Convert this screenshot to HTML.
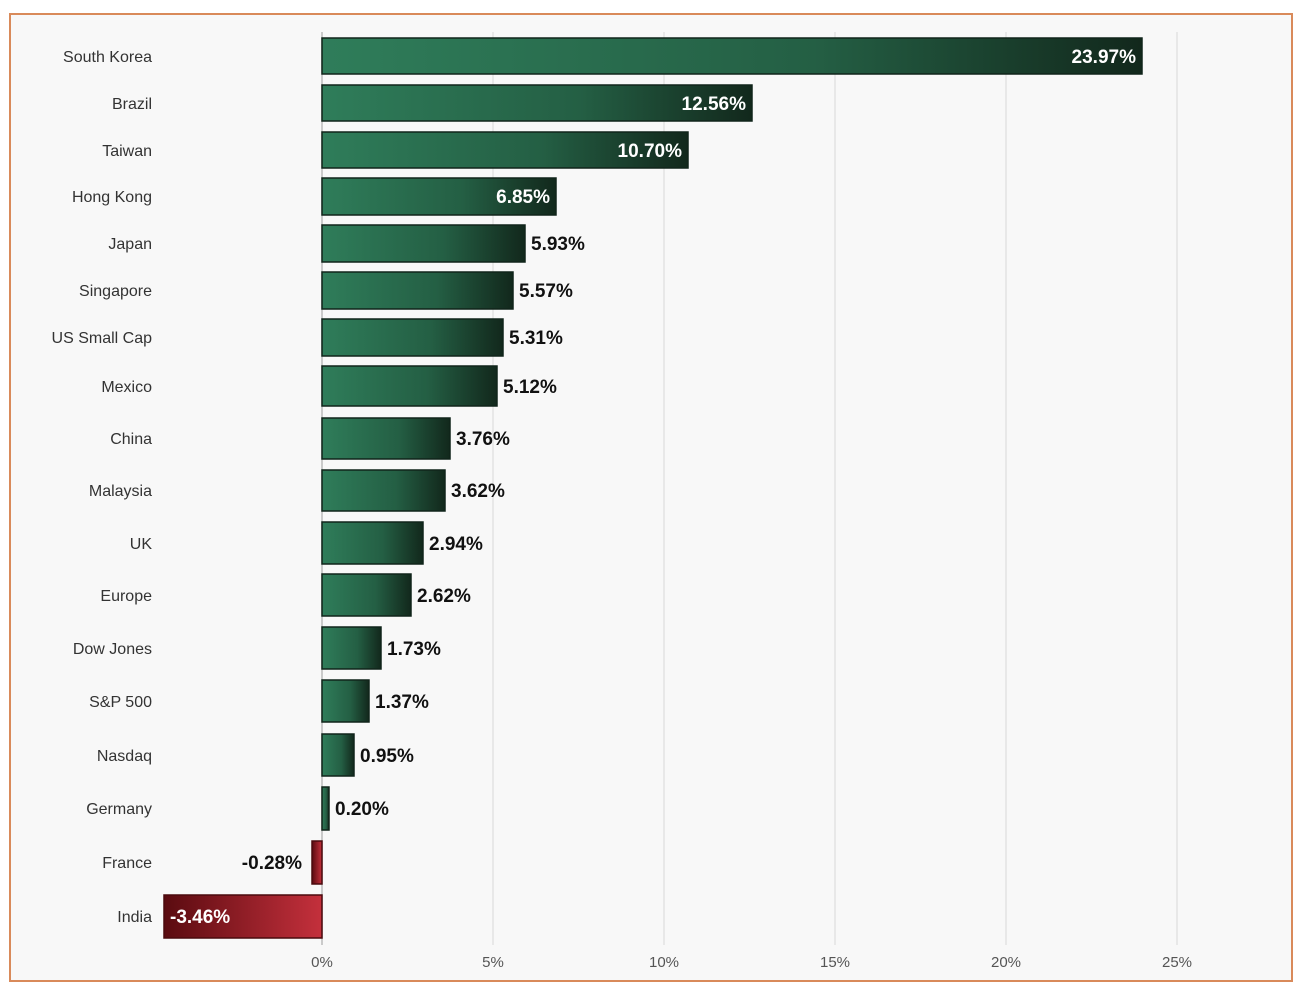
<!DOCTYPE html>
<html><head><meta charset="utf-8"><style>
html,body{margin:0;padding:0;background:#fff;}
svg{display:block;}
</style></head><body>
<svg width="1312" height="994" viewBox="0 0 1312 994" xmlns="http://www.w3.org/2000/svg">
<defs>
<linearGradient id="g" x1="0" y1="0" x2="1" y2="0">
<stop offset="0" stop-color="#2f7d5a"/><stop offset="0.6" stop-color="#245f44"/><stop offset="1" stop-color="#12281c"/>
</linearGradient>
<linearGradient id="r" x1="0" y1="0" x2="1" y2="0">
<stop offset="0" stop-color="#5a0b10"/><stop offset="1" stop-color="#c4303c"/>
</linearGradient>
</defs>
<rect x="10" y="14" width="1282" height="967" fill="#f8f8f8" stroke="#d98a5a" stroke-width="2"/>
<g stroke="#e2e2e2" stroke-width="1.5">
<line x1="493" y1="32" x2="493" y2="945"/><line x1="664" y1="32" x2="664" y2="945"/>
<line x1="835" y1="32" x2="835" y2="945"/><line x1="1006" y1="32" x2="1006" y2="945"/>
<line x1="1177" y1="32" x2="1177" y2="945"/>
</g>
<line x1="322" y1="32" x2="322" y2="945" stroke="#bbb" stroke-width="1.5"/>
<g font-family="'Liberation Sans Narrow','Liberation Sans',sans-serif" font-size="16" fill="#333" text-anchor="end">
<text x="152" y="62">South Korea</text><text x="152" y="109">Brazil</text><text x="152" y="156">Taiwan</text>
<text x="152" y="202">Hong Kong</text><text x="152" y="249">Japan</text><text x="152" y="296">Singapore</text>
<text x="152" y="343">US Small Cap</text><text x="152" y="392">Mexico</text><text x="152" y="444">China</text>
<text x="152" y="496">Malaysia</text><text x="152" y="549">UK</text><text x="152" y="601">Europe</text>
<text x="152" y="654">Dow Jones</text><text x="152" y="707">S&amp;P 500</text><text x="152" y="761">Nasdaq</text>
<text x="152" y="814">Germany</text><text x="152" y="868">France</text><text x="152" y="922">India</text>
</g>
<g stroke="#10241a" stroke-width="1.5" fill="url(#g)">
<rect x="322" y="38" width="820" height="36"/>
<rect x="322" y="85" width="430" height="36"/>
<rect x="322" y="132" width="366" height="36"/>
<rect x="322" y="178" width="234" height="37"/>
<rect x="322" y="225" width="203" height="37"/>
<rect x="322" y="272" width="191" height="37"/>
<rect x="322" y="319" width="181" height="37"/>
<rect x="322" y="366" width="175" height="40"/>
<rect x="322" y="418" width="128" height="41"/>
<rect x="322" y="470" width="123" height="41"/>
<rect x="322" y="522" width="101" height="42"/>
<rect x="322" y="574" width="89" height="42"/>
<rect x="322" y="627" width="59" height="42"/>
<rect x="322" y="680" width="47" height="42"/>
<rect x="322" y="734" width="32" height="42"/>
<rect x="322" y="787" width="7" height="43"/>
</g>
<g stroke="#4a0a0e" stroke-width="1.5" fill="url(#r)">
<rect x="312" y="841" width="10" height="43"/>
<rect x="164" y="895" width="158" height="43"/>
</g>
<g font-family="'Liberation Sans Narrow','Liberation Sans',sans-serif" font-size="19" font-weight="bold">
<g fill="#fff" text-anchor="end">
<text x="1136" y="63">23.97%</text><text x="746" y="110">12.56%</text><text x="682" y="157">10.70%</text><text x="550" y="203">6.85%</text>
</g>
<g fill="#111">
<text x="531" y="250">5.93%</text><text x="519" y="297">5.57%</text><text x="509" y="344">5.31%</text>
<text x="503" y="393">5.12%</text><text x="456" y="445">3.76%</text><text x="451" y="497">3.62%</text>
<text x="429" y="550">2.94%</text><text x="417" y="602">2.62%</text><text x="387" y="655">1.73%</text>
<text x="375" y="708">1.37%</text><text x="360" y="762">0.95%</text><text x="335" y="815">0.20%</text>
<text x="302" y="869" text-anchor="end">-0.28%</text>
</g>
<text x="170" y="923" fill="#fff">-3.46%</text>
</g>
<g font-family="'Liberation Sans Narrow','Liberation Sans',sans-serif" font-size="15" fill="#555" text-anchor="middle">
<text x="322" y="967">0%</text><text x="493" y="967">5%</text><text x="664" y="967">10%</text>
<text x="835" y="967">15%</text><text x="1006" y="967">20%</text><text x="1177" y="967">25%</text>
</g>
</svg>
</body></html>
